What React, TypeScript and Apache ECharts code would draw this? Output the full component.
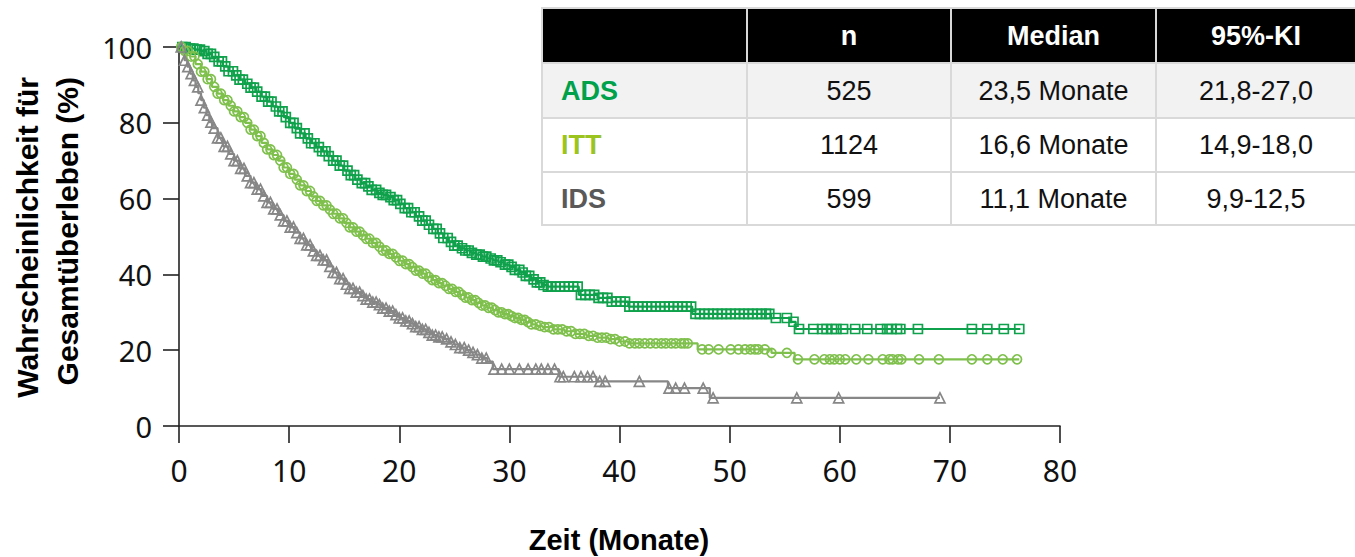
import React, { useEffect, useRef } from "react";
import * as echarts from "echarts";

// ---------- Data ----------
// Kaplan-Meier steps: [months, survival %]
const ADS_STEPS: [number, number][] = [
  [0, 100], [0.5, 100], [1, 99.6], [1.5, 99.3], [2, 98.9], [2.5, 98.2], [3, 97.4], [3.5, 96.2],
  [4, 94.9], [4.5, 93.6], [5, 92.5], [5.5, 91.4], [6, 90.3], [6.5, 89.3], [7, 88.2], [7.5, 86.9],
  [8, 85.6], [8.5, 84.3], [9, 83], [9.5, 81.5], [10, 80], [10.5, 78.6], [11, 77.2], [11.5, 75.9],
  [12, 74.6], [12.5, 73.6], [13, 72.5], [13.5, 71.2], [14, 70], [14.5, 68.7], [15, 67.4], [15.5, 66.2],
  [16, 65], [16.5, 64.1], [17, 63.2], [17.5, 62.3], [18, 61.5], [18.5, 61], [19, 60.4], [19.5, 59.6],
  [20, 58.6], [20.5, 57.5], [21, 56.4], [21.5, 55.3], [22, 54.2], [22.5, 53.1], [23, 52], [23.5, 50.8],
  [24, 49.6], [24.5, 48.6], [25, 47.6], [25.5, 46.9], [26, 46.3], [26.5, 45.7], [27, 45.2], [27.5, 44.7],
  [28, 44.2], [28.5, 43.7], [29, 43.2], [29.5, 42.6], [30, 42], [30.5, 41.2], [31, 40.5], [31.5, 39.6],
  [32, 38.7], [32.5, 37.9], [33, 37.2], [33.5, 36.8], [36.3, 34.6], [38, 33.8], [39.3, 32.8],
  [40.8, 31.5], [46.6, 29.6], [53.7, 28.5], [55.5, 27.5], [56, 25.6], [76.4, 25.6],
];
const ITT_STEPS: [number, number][] = [
  [0, 100], [0.5, 99], [1, 97.5], [1.5, 95.5], [2, 93.5], [2.5, 91.5], [3, 89.5], [3.5, 87.7],
  [4, 86], [4.5, 84.5], [5, 83], [5.5, 81.5], [6, 80], [6.5, 78.2], [7, 76.5], [7.5, 74.7], [8, 73],
  [8.5, 71.5], [9, 70], [9.5, 68.2], [10, 66.5], [10.5, 65], [11, 63.5], [11.5, 62], [12, 60.6],
  [12.5, 59.4], [13, 58.2], [13.5, 57.1], [14, 56], [14.5, 54.8], [15, 53.6], [15.5, 52.4], [16, 51.3],
  [16.5, 50.3], [17, 49.4], [17.5, 48.3], [18, 47.3], [18.5, 46.3], [19, 45.4], [19.5, 44.5],
  [20, 43.6], [20.5, 42.7], [21, 41.9], [21.5, 41], [22, 40.2], [22.5, 39.3], [23, 38.5], [23.5, 37.7],
  [24, 37], [24.5, 36.2], [25, 35.4], [25.5, 34.6], [26, 33.9], [26.5, 33.2], [27, 32.5], [27.5, 31.8],
  [28, 31.2], [28.5, 30.6], [29, 30], [29.5, 29.5], [30, 29], [30.5, 28.5], [31, 28], [31.5, 27.4],
  [32, 26.8], [32.5, 26.4], [33, 26.1], [34, 25.5], [35, 25], [36, 24.3], [37, 23.8], [38, 23.3],
  [39, 22.9], [40, 22.3], [40.8, 21.8], [47.1, 20.2], [53.8, 19.3], [55.9, 17.6], [76.3, 17.6],
];
const IDS_STEPS: [number, number][] = [
  [0, 100], [0.25, 98.5], [0.5, 96.5], [0.75, 94.8], [1, 93], [1.25, 91.2], [1.5, 89.5], [1.75, 87.8],
  [2, 86], [2.25, 84], [2.5, 82], [2.75, 80.2], [3, 78.6], [3.5, 76], [4, 73.8], [4.5, 71.8], [5, 70],
  [5.5, 68], [6, 66], [6.5, 64.2], [7, 62.5], [7.5, 60.7], [8, 59], [8.5, 57.3], [9, 55.7], [9.5, 54.1],
  [10, 52.5], [10.5, 51], [11, 49.5], [11.5, 47.8], [12, 46.2], [12.5, 45], [13, 43.8], [13.5, 42.1],
  [14, 40.5], [14.5, 38.9], [15, 37.4], [15.5, 36.3], [16, 35.3], [16.5, 34.4], [17, 33.5], [17.5, 32.7],
  [18, 32], [18.5, 31.1], [19, 30.3], [19.5, 29.4], [20, 28.5], [20.5, 27.7], [21, 27], [21.5, 26.2],
  [22, 25.5], [22.5, 24.7], [23, 24], [23.5, 23.5], [24, 23], [24.5, 22.2], [25, 21.5], [25.5, 20.7],
  [26, 20], [26.5, 19.4], [27, 18.8], [27.5, 17.9], [28, 17], [28.5, 15], [34.5, 13], [37.9, 11.8],
  [44.4, 10], [48.2, 7.4], [69.1, 7.4],
];

// censoring times (months)
const ADS_CENSOR: number[] = [
  0.3, 0.6, 1.0, 1.3, 1.6, 1.9, 2.3, 2.6, 2.9, 3.2, 3.6, 3.9, 4.2, 4.5, 4.9, 5.2, 5.5, 5.8, 6.2, 6.5,
  6.8, 7.1, 7.5, 7.8, 8.1, 8.4, 8.8, 9.1, 9.4, 9.7, 10.1, 10.4, 10.7, 11.0, 11.4, 11.7, 12.0, 12.3,
  12.7, 13.0, 13.3, 13.6, 14.0, 14.3, 14.6, 14.9, 15.3, 15.6, 15.9, 16.2, 16.6, 16.9, 17.2, 17.5,
  17.9, 18.2, 18.5, 18.8, 19.2, 19.5, 19.8, 20.1, 20.5, 20.8, 21.1, 21.4, 21.8, 22.1, 22.4, 22.7,
  23.1, 23.4, 23.7, 24.0, 24.4, 24.7, 25.0, 25.3, 25.7, 26.0, 26.3, 26.6, 27.0, 27.3, 27.6, 27.9,
  28.3, 28.6, 28.9, 29.2, 29.6, 29.9, 30.2, 30.5, 30.9, 31.2, 31.5, 31.8, 32.2, 32.5, 32.8, 33.1,
  33.5, 33.8, 34.2, 34.6, 35.0, 35.4, 35.8, 36.2, 36.5, 36.9, 37.3, 37.7, 38.1, 38.5, 38.9, 39.3,
  39.7, 40.1, 40.5, 40.9, 41.3, 41.7, 42.1, 42.5, 42.9, 43.3, 43.7, 44.1, 44.5, 44.9, 45.3, 45.7,
  46.1, 46.5, 46.9, 47.3, 47.7, 48.1, 48.5, 48.9, 49.3, 49.7, 50.1, 50.5, 50.9, 51.3, 51.7, 52.1,
  52.5, 52.9, 53.3, 53.6, 54.2, 55.2, 55.8, 56.3, 57.6, 58.4, 58.8, 59.3, 59.7, 60.3, 61.4, 62.5,
  63.7, 64.3, 64.7, 65.2, 65.5, 67.1, 72.0, 73.4, 74.9, 76.3,
];
const ITT_CENSOR: number[] = [
  0.2, 0.5, 0.8, 1.1, 1.4, 1.7, 2.0, 2.3, 2.6, 2.9, 3.2, 3.5, 3.8, 4.1, 4.4, 4.7, 5.0, 5.3, 5.6, 5.9,
  6.2, 6.5, 6.8, 7.1, 7.4, 7.7, 8.0, 8.3, 8.6, 8.9, 9.2, 9.5, 9.8, 10.1, 10.4, 10.7, 11.0, 11.3,
  11.6, 11.9, 12.2, 12.5, 12.8, 13.1, 13.4, 13.7, 14.0, 14.3, 14.6, 14.9, 15.2, 15.5, 15.8, 16.1,
  16.4, 16.7, 17.0, 17.3, 17.6, 17.9, 18.2, 18.5, 18.8, 19.1, 19.4, 19.7, 20.0, 20.3, 20.6, 20.9,
  21.2, 21.5, 21.8, 22.1, 22.4, 22.7, 23.0, 23.3, 23.6, 23.9, 24.2, 24.5, 24.8, 25.1, 25.4, 25.7,
  26.0, 26.3, 26.6, 26.9, 27.2, 27.5, 27.8, 28.1, 28.4, 28.7, 29.0, 29.3, 29.6, 29.9, 30.2, 30.5,
  30.8, 31.1, 31.4, 31.7, 32.0, 32.4, 32.8, 33.2, 33.6, 34.0, 34.4, 34.8, 35.2, 35.6, 36.0, 36.4,
  36.8, 37.2, 37.6, 38.0, 38.4, 38.8, 39.2, 39.6, 40.0, 40.5, 40.9, 41.4, 41.8, 42.3, 42.8, 43.3,
  43.8, 44.2, 44.7, 45.1, 45.6, 45.9, 46.2, 47.5, 48.1, 49.0, 50.1, 50.8, 51.4, 51.9, 52.3, 52.6,
  53.2, 53.8, 55.2, 56.2, 57.7, 58.6, 59.1, 59.5, 60.0, 60.5, 61.5, 62.6, 63.9, 64.5, 64.8, 65.3,
  65.6, 67.2, 69.0, 72.0, 73.4, 74.8, 76.1,
];
const IDS_CENSOR: number[] = [
  0.2, 0.5, 0.8, 1.1, 1.4, 1.7, 2.0, 2.3, 2.6, 2.9, 3.2, 3.5, 3.8, 4.1, 4.4, 4.7, 5.0, 5.3, 5.6, 5.9,
  6.2, 6.5, 6.8, 7.1, 7.4, 7.7, 8.0, 8.3, 8.6, 8.9, 9.2, 9.5, 9.8, 10.1, 10.4, 10.7, 11.0, 11.3,
  11.6, 11.9, 12.2, 12.5, 12.8, 13.1, 13.4, 13.7, 14.0, 14.3, 14.6, 14.9, 15.2, 15.5, 15.8, 16.1,
  16.4, 16.7, 17.0, 17.3, 17.6, 17.9, 18.2, 18.5, 18.8, 19.1, 19.4, 19.7, 20.0, 20.3, 20.6, 20.9,
  21.2, 21.5, 21.8, 22.1, 22.4, 22.7, 23.0, 23.3, 23.6, 23.9, 24.3, 24.7, 25.1, 25.5, 25.9, 26.3,
  26.7, 27.1, 27.5, 27.9, 28.6, 29.3, 30.0, 30.9, 31.7, 32.4, 32.9, 33.5, 34.1, 34.6, 34.9, 35.9,
  36.5, 37.1, 37.6, 38.2, 38.7, 41.8, 44.5, 45.1, 45.9, 47.6, 48.5, 56.1, 59.9, 69.1,
];

const X_TICKS = [0, 10, 20, 30, 40, 50, 60, 70, 80];
const Y_TICKS = [0, 20, 40, 60, 80, 100];

const TABLE_HEADERS = ["", "n", "Median", "95%-KI"];
const GROUP_NAMES = ["ADS", "ITT", "IDS"];
const GROUP_N = ["525", "1124", "599"];
const GROUP_MEDIAN = ["23,5 Monate", "16,6 Monate", "11,1 Monate"];
const GROUP_CI = ["21,8-27,0", "14,9-18,0", "9,9-12,5"];

const X_TITLE = "Zeit (Monate)";
const Y_TITLE_LINES = ["Wahrscheinlichkeit für", "Gesamtüberleben (%)"];

// ---------- Styles ----------
const LINE_COLORS = ["#0fa14b", "#7fc04d", "#878787"];
const LABEL_COLORS = ["#00a14b", "#9cc41f", "#595959"];
const SYMBOLS = ["rect", "circle", "triangle"];

function survAt(steps: [number, number][], t: number): number {
  let v = steps[0][1];
  for (const [st, sv] of steps) {
    if (st <= t) v = sv;
    else break;
  }
  return v;
}

export default function App() {
  const ref = useRef<HTMLDivElement>(null);

  useEffect(() => {
    if (!ref.current) return;
    const chart = echarts.init(ref.current, undefined, { renderer: "svg" });

    const stepsAll = [ADS_STEPS, ITT_STEPS, IDS_STEPS];
    const censorAll = [ADS_CENSOR, ITT_CENSOR, IDS_CENSOR];

    const series: any[] = [];
    stepsAll.forEach((steps, i) => {
      series.push({
        name: GROUP_NAMES[i] + "-line",
        type: "line",
        data: steps,
        step: "end",
        symbol: "none",
        lineStyle: { color: LINE_COLORS[i], width: 2.2 },
        z: 3,
      });
      series.push({
        name: GROUP_NAMES[i] + "-censor",
        type: "scatter",
        data: censorAll[i].map((t) => [t, survAt(steps, t)]),
        symbol: SYMBOLS[i],
        symbolSize: i === 2 ? 10 : 9,
        itemStyle: {
          color: "rgba(255,255,255,0)",
          borderColor: LINE_COLORS[i],
          borderWidth: 1.7,
          opacity: 1,
        },
        z: 4,
      });
    });

    // table graphic
    const colX = [543, 748, 952, 1157];
    const colW = [203, 202, 203, 198];
    const rowY = [9, 64, 119, 173];
    const rowH = [53, 53, 52, 51];
    const font = '"Liberation Sans", Arial, sans-serif';
    const table: any[] = [
      { type: "rect", shape: { x: 541, y: 7, width: 814, height: 219 }, style: { fill: "#d9d9d9" } },
    ];
    for (let r = 0; r < 4; r++) {
      for (let c = 0; c < 4; c++) {
        const fill = r === 0 ? "#000000" : r === 1 ? "#f2f2f2" : "#ffffff";
        table.push({
          type: "rect",
          shape: { x: colX[c], y: rowY[r], width: colW[c], height: rowH[r] },
          style: { fill },
        });
      }
    }
    TABLE_HEADERS.forEach((h, c) => {
      if (!h) return;
      table.push({
        type: "text",
        x: colX[c] + colW[c] / 2,
        y: rowY[0] + rowH[0] / 2,
        style: {
          text: h, fill: "#ffffff", fontSize: 27, fontWeight: "bold", fontFamily: font,
          textAlign: "center", textVerticalAlign: "middle",
        },
      });
    });
    GROUP_NAMES.forEach((g, i) => {
      const r = i + 1;
      const cy = rowY[r] + rowH[r] / 2;
      table.push({
        type: "text", x: 561, y: cy,
        style: {
          text: g, fill: LABEL_COLORS[i], fontSize: 27, fontWeight: "bold", fontFamily: font,
          textAlign: "left", textVerticalAlign: "middle",
        },
      });
      [GROUP_N[i], GROUP_MEDIAN[i], GROUP_CI[i]].forEach((val, k) => {
        const c = k + 1;
        table.push({
          type: "text", x: colX[c] + colW[c] / 2, y: cy,
          style: {
            text: val, fill: "#111111", fontSize: 27, fontFamily: font,
            textAlign: "center", textVerticalAlign: "middle",
          },
        });
      });
    });

    const titles: any[] = [
      {
        type: "text", x: 619, y: 540,
        style: {
          text: X_TITLE, fill: "#000", fontSize: 29, fontWeight: "bold", fontFamily: font,
          textAlign: "center", textVerticalAlign: "middle",
        },
      },
      {
        type: "text", x: 27, y: 77, rotation: Math.PI / 2,
        style: {
          text: Y_TITLE_LINES[0], fill: "#000", fontSize: 30, fontWeight: "bold", fontFamily: font,
          textAlign: "right", textVerticalAlign: "middle",
        },
      },
      {
        type: "text", x: 67, y: 77, rotation: Math.PI / 2,
        style: {
          text: Y_TITLE_LINES[1], fill: "#000", fontSize: 30, fontWeight: "bold", fontFamily: font,
          textAlign: "right", textVerticalAlign: "middle",
        },
      },
    ];

    chart.setOption({
      animation: false,
      backgroundColor: "#ffffff",
      grid: { left: 179, right: 295, top: 47, bottom: 131, containLabel: false },
      xAxis: {
        type: "value",
        min: X_TICKS[0],
        max: X_TICKS[X_TICKS.length - 1],
        interval: X_TICKS[1] - X_TICKS[0],
        axisLine: { show: true, onZero: false, lineStyle: { color: "#222", width: 1.6 } },
        axisTick: { show: true, length: 17, lineStyle: { color: "#222", width: 1.6 } },
        axisLabel: {
          fontSize: 30, color: "#111", fontFamily: '"Noto Sans", sans-serif', margin: 29,
        },
        splitLine: { show: false },
      },
      yAxis: {
        type: "value",
        min: Y_TICKS[0],
        max: Y_TICKS[Y_TICKS.length - 1],
        interval: Y_TICKS[1] - Y_TICKS[0],
        axisLine: { show: true, onZero: false, lineStyle: { color: "#222", width: 1.6 } },
        axisTick: { show: true, length: 16, lineStyle: { color: "#222", width: 1.6 } },
        axisLabel: {
          fontSize: 29, color: "#111", fontFamily: '"Noto Sans", sans-serif', margin: 27,
        },
        splitLine: { show: false },
      },
      series,
      graphic: [...table, ...titles],
    });

    return () => chart.dispose();
  }, []);

  return (
    <div
      ref={ref}
      style={{ position: "absolute", left: 0, top: 0, width: 1355, height: 557 }}
    />
  );
}
